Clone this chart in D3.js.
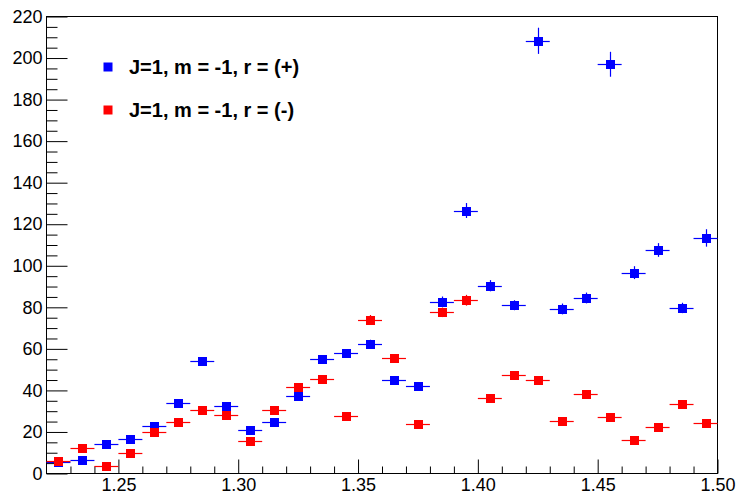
<!DOCTYPE html>
<html>
<head>
<meta charset="utf-8">
<script src="https://cdn.jsdelivr.net/npm/d3@7"></script>
<style>
body { margin: 0; background: #fff; }
svg { display: block; }
text { font-family: "Liberation Sans", Arial, Helvetica, sans-serif; }
</style>
</head>
<body>
<script>
var width = 736,
    height = 496;

// bin centres (mass) and contents
var binCenters = [1.225, 1.235, 1.245, 1.255, 1.265, 1.275, 1.285, 1.295, 1.305, 1.315,
                  1.325, 1.335, 1.345, 1.355, 1.365, 1.375, 1.385, 1.395, 1.405, 1.415,
                  1.425, 1.435, 1.445, 1.455, 1.465, 1.475, 1.485, 1.495];
var binHalfWidth = 0.005;

var plusValues = [5.5, 6.3, 14.0, 16.7, 23.1, 34.1, 54.0, 32.3, 20.9, 24.9,
                  37.4, 54.9, 58.0, 62.5, 45.2, 42.3, 82.7, 126.6, 90.4, 81.0,
                  208.3, 79.2, 84.5, 197.0, 96.7, 107.6, 79.7, 113.4];
var plusErrors = [0.2, 0.2, 0.4, 0.5, 0.7, 1.0, 1.6, 1.0, 0.6, 0.7,
                  1.1, 1.6, 1.7, 1.9, 1.4, 1.3, 2.5, 3.6, 2.7, 2.4,
                  6.3, 2.6, 2.6, 6.0, 3.1, 3.3, 2.5, 4.2];

var minusValues = [5.8, 12.2, 3.4, 9.8, 20.2, 24.7, 30.7, 28.3, 15.7, 30.7,
                   41.6, 45.3, 27.8, 74.1, 55.6, 23.8, 77.6, 83.4, 36.5, 47.6,
                   45.1, 25.4, 38.2, 27.1, 16.2, 22.5, 33.6, 24.3];
var minusErrors = [0.2, 0.4, 0.1, 0.3, 0.6, 0.7, 0.9, 0.9, 0.5, 0.9,
                   1.2, 1.4, 0.8, 2.2, 1.7, 0.7, 2.3, 2.6, 1.1, 1.4,
                   1.4, 0.8, 1.1, 0.8, 0.5, 0.7, 1.0, 0.7];

var seriesNames = ['J=1, m = -1, r = (+)', 'J=1, m = -1, r = (-)'];
var seriesColors = ['#0000ff', '#ff0000'];

var xMajor = [1.25, 1.30, 1.35, 1.40, 1.45, 1.50];
var yMajor = [0, 20, 40, 60, 80, 100, 120, 140, 160, 180, 200, 220];

var frame = {left: 46.5, right: 717.5, top: 16.5, bottom: 473.5};

var x = d3.scaleLinear().domain([1.22, 1.50]).range([frame.left, frame.right]),
    y = d3.scaleLinear().domain([0, 220]).range([frame.bottom, frame.top]);

var svg = d3.select('body').append('svg')
    .attr('width', width)
    .attr('height', height);

svg.append('rect')
    .attr('width', width).attr('height', height)
    .attr('fill', '#fff');

// minor ticks
var xMinor = d3.range(1.23, 1.50, 0.01).filter(function (v) {
    return xMajor.every(function (m) { return Math.abs(m - v) > 1e-6; });
});
var yMinor = d3.range(5, 220, 5).filter(function (v) { return v % 20 !== 0; });

svg.append('g')
    .attr('transform', 'translate(0,' + frame.bottom + ')')
    .call(d3.axisBottom(x).tickValues(xMinor).tickSizeInner(-7).tickSizeOuter(0).tickFormat(''))
    .call(function (g) { g.select('.domain').remove(); });

svg.append('g')
    .attr('transform', 'translate(' + frame.left + ',0)')
    .call(d3.axisLeft(y).tickValues(yMinor).tickSizeInner(-11).tickSizeOuter(0).tickFormat(''))
    .call(function (g) { g.select('.domain').remove(); });

// major ticks + labels
var xAxis = svg.append('g')
    .attr('transform', 'translate(0,' + frame.bottom + ')')
    .call(d3.axisBottom(x).tickValues(xMajor).tickSizeInner(-14).tickSizeOuter(0)
        .tickPadding(5).tickFormat(d3.format('.2f')));
xAxis.select('.domain').remove();

var yAxis = svg.append('g')
    .attr('transform', 'translate(' + frame.left + ',0)')
    .call(d3.axisLeft(y).tickValues(yMajor).tickSizeInner(-21).tickSizeOuter(0)
        .tickPadding(4));
yAxis.select('.domain').remove();

svg.selectAll('.tick line').attr('stroke', '#000');
svg.selectAll('.tick text')
    .attr('fill', '#000')
    .style('font-size', '18px')
    .style('font-family', '"Liberation Sans", Arial, sans-serif');

// frame
svg.append('rect')
    .attr('x', frame.left).attr('y', frame.top)
    .attr('width', frame.right - frame.left)
    .attr('height', frame.bottom - frame.top)
    .attr('fill', 'none')
    .attr('stroke', '#000');

// data points with error bars
var series = [
    {values: plusValues, errors: plusErrors, color: seriesColors[0]},
    {values: minusValues, errors: minusErrors, color: seriesColors[1]}
];
var markerSize = 9;

series.forEach(function (s) {
    var pts = binCenters.map(function (c, i) {
        return {x: c, y: s.values[i], e: s.errors[i]};
    });
    var g = svg.append('g');
    g.selectAll('line.h').data(pts).enter().append('line')
        .attr('x1', function (d) { return x(d.x - binHalfWidth); })
        .attr('x2', function (d) { return x(d.x + binHalfWidth); })
        .attr('y1', function (d) { return Math.round(y(d.y)) + 0.5; })
        .attr('y2', function (d) { return Math.round(y(d.y)) + 0.5; })
        .attr('stroke', s.color)
        .attr('stroke-width', 1.2);
    g.selectAll('line.v').data(pts).enter().append('line')
        .attr('x1', function (d) { return Math.round(x(d.x)) + 0.5; })
        .attr('x2', function (d) { return Math.round(x(d.x)) + 0.5; })
        .attr('y1', function (d) { return y(d.y - d.e); })
        .attr('y2', function (d) { return y(d.y + d.e); })
        .attr('stroke', s.color)
        .attr('stroke-width', 1.2);
    g.selectAll('rect').data(pts).enter().append('rect')
        .attr('x', function (d) { return Math.round(x(d.x)) + 0.5 - markerSize / 2; })
        .attr('y', function (d) { return Math.round(y(d.y)) + 0.5 - markerSize / 2; })
        .attr('width', markerSize)
        .attr('height', markerSize)
        .attr('fill', s.color);
});

// legend
var legend = svg.append('g');
var legendRows = [67, 110];
seriesNames.forEach(function (name, i) {
    legend.append('rect')
        .attr('x', 108 - 4.5).attr('y', legendRows[i] - 4.5)
        .attr('width', 9).attr('height', 9)
        .attr('fill', seriesColors[i]);
    legend.append('text')
        .attr('x', 129)
        .attr('y', legendRows[i])
        .attr('dy', '0.36em')
        .style('font-size', '20px')
        .style('font-weight', 'bold')
        .attr('fill', '#000')
        .text(name);
});
</script>
</body>
</html>
